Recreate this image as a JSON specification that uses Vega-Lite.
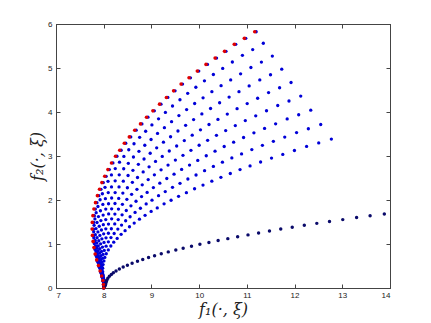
{
"$schema": "https://vega.github.io/schema/vega-lite/v6.json",
"width": 334, "height": 264,
"autosize": {"type": "none"},
"padding": {"left": 56, "top": 24, "right": 41, "bottom": 35},
"background": "white",
"config": {"view": {"stroke": "#444", "strokeWidth": 1}},
"datasets": {
"b": [
{"x":8,"y":0},{"x":8.024,"y":0.080},{"x":8.013,"y":0.171},{"x":7.988,"y":0.273},{"x":7.955,"y":0.387},{"x":7.919,"y":0.512},{"x":7.883,"y":0.638},{"x":7.850,"y":0.774},{"x":7.825,"y":0.918},{"x":7.808,"y":1.059},{"x":7.793,"y":1.195},{"x":7.787,"y":1.339},{"x":7.791,"y":1.491},{"x":7.804,"y":1.644},{"x":7.825,"y":1.794},{"x":7.858,"y":1.940},{"x":7.898,"y":2.099},{"x":7.942,"y":2.243},{"x":7.992,"y":2.395},{"x":8.051,"y":2.539},{"x":8.118,"y":2.691},{"x":8.193,"y":2.842},{"x":8.277,"y":2.994},{"x":8.365,"y":3.131},{"x":8.462,"y":3.290},{"x":8.567,"y":3.434},{"x":8.680,"y":3.586},{"x":8.801,"y":3.730},{"x":8.927,"y":3.882},{"x":9.061,"y":4.026},{"x":9.200,"y":4.178},{"x":9.344,"y":4.331},{"x":9.495,"y":4.481},{"x":9.652,"y":4.634},{"x":9.818,"y":4.777},{"x":9.992,"y":4.929},{"x":10.174,"y":5.082},{"x":10.365,"y":5.225},{"x":10.562,"y":5.378},{"x":10.767,"y":5.537},{"x":10.977,"y":5.674},{"x":11.195,"y":5.824},
{"x":7.995,"y":0.076},{"x":7.986,"y":0.163},{"x":7.963,"y":0.261},{"x":7.933,"y":0.370},{"x":7.900,"y":0.489},{"x":7.867,"y":0.609},{"x":7.838,"y":0.739},{"x":7.817,"y":0.876},{"x":7.803,"y":1.011},{"x":7.792,"y":1.142},{"x":7.790,"y":1.279},{"x":7.799,"y":1.424},{"x":7.816,"y":1.570},{"x":7.842,"y":1.713},{"x":7.879,"y":1.853},{"x":7.924,"y":2.005},{"x":7.972,"y":2.142},{"x":8.027,"y":2.288},{"x":8.090,"y":2.424},{"x":8.162,"y":2.570},{"x":8.242,"y":2.714},{"x":8.331,"y":2.859},{"x":8.423,"y":2.990},{"x":8.525,"y":3.142},{"x":8.635,"y":3.279},{"x":8.753,"y":3.425},{"x":8.879,"y":3.562},{"x":9.010,"y":3.707},{"x":9.149,"y":3.844},{"x":9.293,"y":3.990},{"x":9.442,"y":4.136},{"x":9.598,"y":4.279},{"x":9.760,"y":4.425},{"x":9.931,"y":4.562},{"x":10.111,"y":4.708},{"x":10.298,"y":4.853},{"x":10.494,"y":4.990},{"x":10.696,"y":5.136},{"x":10.907,"y":5.288},{"x":11.122,"y":5.419},{"x":11.345,"y":5.562},
{"x":7.997,"y":0.072},{"x":7.989,"y":0.155},{"x":7.969,"y":0.247},{"x":7.941,"y":0.350},{"x":7.912,"y":0.464},{"x":7.882,"y":0.577},{"x":7.856,"y":0.701},{"x":7.839,"y":0.830},{"x":7.830,"y":0.958},{"x":7.823,"y":1.082},{"x":7.825,"y":1.212},{"x":7.838,"y":1.350},{"x":7.860,"y":1.488},{"x":7.890,"y":1.624},{"x":7.932,"y":1.756},{"x":7.982,"y":1.900},{"x":8.035,"y":2.030},{"x":8.095,"y":2.168},{"x":8.163,"y":2.298},{"x":8.240,"y":2.436},{"x":8.325,"y":2.572},{"x":8.419,"y":2.710},{"x":8.516,"y":2.833},{"x":8.623,"y":2.978},{"x":8.738,"y":3.107},{"x":8.861,"y":3.245},{"x":8.992,"y":3.375},{"x":9.128,"y":3.513},{"x":9.272,"y":3.643},{"x":9.422,"y":3.781},{"x":9.576,"y":3.919},{"x":9.738,"y":4.055},{"x":9.906,"y":4.193},{"x":10.082,"y":4.323},{"x":10.267,"y":4.461},{"x":10.460,"y":4.599},{"x":10.661,"y":4.729},{"x":10.869,"y":4.867},{"x":11.085,"y":5.011},{"x":11.305,"y":5.135},{"x":11.534,"y":5.271},
{"x":7.998,"y":0.068},{"x":7.993,"y":0.146},{"x":7.975,"y":0.233},{"x":7.950,"y":0.331},{"x":7.924,"y":0.437},{"x":7.898,"y":0.544},{"x":7.876,"y":0.661},{"x":7.863,"y":0.784},{"x":7.858,"y":0.904},{"x":7.855,"y":1.021},{"x":7.861,"y":1.143},{"x":7.879,"y":1.274},{"x":7.906,"y":1.404},{"x":7.941,"y":1.532},{"x":7.988,"y":1.657},{"x":8.043,"y":1.793},{"x":8.101,"y":1.915},{"x":8.166,"y":2.046},{"x":8.239,"y":2.168},{"x":8.321,"y":2.298},{"x":8.411,"y":2.427},{"x":8.510,"y":2.557},{"x":8.612,"y":2.674},{"x":8.726,"y":2.810},{"x":8.845,"y":2.932},{"x":8.974,"y":3.063},{"x":9.110,"y":3.185},{"x":9.252,"y":3.315},{"x":9.401,"y":3.438},{"x":9.556,"y":3.568},{"x":9.717,"y":3.698},{"x":9.884,"y":3.827},{"x":10.057,"y":3.957},{"x":10.239,"y":4.079},{"x":10.429,"y":4.210},{"x":10.628,"y":4.340},{"x":10.835,"y":4.463},{"x":11.048,"y":4.593},{"x":11.271,"y":4.729},{"x":11.496,"y":4.846},{"x":11.731,"y":4.974},
{"x":8.000,"y":0.064},{"x":7.996,"y":0.137},{"x":7.981,"y":0.219},{"x":7.959,"y":0.310},{"x":7.936,"y":0.411},{"x":7.913,"y":0.511},{"x":7.895,"y":0.621},{"x":7.886,"y":0.736},{"x":7.885,"y":0.849},{"x":7.886,"y":0.959},{"x":7.897,"y":1.074},{"x":7.920,"y":1.196},{"x":7.952,"y":1.318},{"x":7.992,"y":1.439},{"x":8.043,"y":1.556},{"x":8.103,"y":1.684},{"x":8.166,"y":1.799},{"x":8.236,"y":1.921},{"x":8.314,"y":2.036},{"x":8.401,"y":2.158},{"x":8.496,"y":2.279},{"x":8.601,"y":2.401},{"x":8.708,"y":2.511},{"x":8.827,"y":2.639},{"x":8.951,"y":2.754},{"x":9.086,"y":2.876},{"x":9.227,"y":2.991},{"x":9.374,"y":3.113},{"x":9.529,"y":3.228},{"x":9.689,"y":3.351},{"x":9.855,"y":3.473},{"x":10.028,"y":3.594},{"x":10.207,"y":3.716},{"x":10.394,"y":3.831},{"x":10.590,"y":3.953},{"x":10.795,"y":4.076},{"x":11.007,"y":4.191},{"x":11.226,"y":4.313},{"x":11.455,"y":4.441},{"x":11.686,"y":4.551},{"x":11.926,"y":4.671},
{"x":8.001,"y":0.060},{"x":8.000,"y":0.128},{"x":7.987,"y":0.205},{"x":7.968,"y":0.290},{"x":7.948,"y":0.384},{"x":7.929,"y":0.477},{"x":7.915,"y":0.580},{"x":7.910,"y":0.687},{"x":7.914,"y":0.793},{"x":7.919,"y":0.895},{"x":7.935,"y":1.003},{"x":7.962,"y":1.117},{"x":7.999,"y":1.231},{"x":8.044,"y":1.344},{"x":8.100,"y":1.453},{"x":8.166,"y":1.572},{"x":8.234,"y":1.680},{"x":8.309,"y":1.794},{"x":8.392,"y":1.902},{"x":8.485,"y":2.016},{"x":8.585,"y":2.128},{"x":8.696,"y":2.243},{"x":8.807,"y":2.345},{"x":8.932,"y":2.464},{"x":9.062,"y":2.572},{"x":9.202,"y":2.686},{"x":9.348,"y":2.793},{"x":9.502,"y":2.908},{"x":9.661,"y":3.015},{"x":9.828,"y":3.129},{"x":10.000,"y":3.244},{"x":10.178,"y":3.356},{"x":10.363,"y":3.470},{"x":10.556,"y":3.578},{"x":10.758,"y":3.692},{"x":10.968,"y":3.806},{"x":11.186,"y":3.914},{"x":11.412,"y":4.028},{"x":11.647,"y":4.147},{"x":11.883,"y":4.250},{"x":12.129,"y":4.362},
{"x":8.002,"y":0.055},{"x":8.003,"y":0.119},{"x":7.993,"y":0.190},{"x":7.977,"y":0.269},{"x":7.961,"y":0.356},{"x":7.945,"y":0.442},{"x":7.935,"y":0.537},{"x":7.935,"y":0.637},{"x":7.943,"y":0.735},{"x":7.953,"y":0.830},{"x":7.974,"y":0.929},{"x":8.006,"y":1.035},{"x":8.048,"y":1.141},{"x":8.098,"y":1.245},{"x":8.160,"y":1.346},{"x":8.231,"y":1.457},{"x":8.304,"y":1.556},{"x":8.385,"y":1.662},{"x":8.473,"y":1.762},{"x":8.571,"y":1.868},{"x":8.677,"y":1.972},{"x":8.793,"y":2.078},{"x":8.910,"y":2.173},{"x":9.041,"y":2.283},{"x":9.176,"y":2.383},{"x":9.322,"y":2.489},{"x":9.474,"y":2.588},{"x":9.633,"y":2.694},{"x":9.799,"y":2.794},{"x":9.971,"y":2.900},{"x":10.149,"y":3.005},{"x":10.333,"y":3.110},{"x":10.525,"y":3.216},{"x":10.723,"y":3.315},{"x":10.931,"y":3.421},{"x":11.148,"y":3.527},{"x":11.371,"y":3.626},{"x":11.603,"y":3.732},{"x":11.845,"y":3.843},{"x":12.086,"y":3.938},{"x":12.339,"y":4.042},
{"x":8.004,"y":0.051},{"x":8.007,"y":0.109},{"x":7.999,"y":0.174},{"x":7.986,"y":0.247},{"x":7.974,"y":0.327},{"x":7.962,"y":0.407},{"x":7.956,"y":0.494},{"x":7.960,"y":0.585},{"x":7.973,"y":0.675},{"x":7.987,"y":0.763},{"x":8.012,"y":0.854},{"x":8.050,"y":0.951},{"x":8.097,"y":1.049},{"x":8.152,"y":1.145},{"x":8.219,"y":1.238},{"x":8.296,"y":1.339},{"x":8.374,"y":1.431},{"x":8.460,"y":1.528},{"x":8.553,"y":1.620},{"x":8.657,"y":1.717},{"x":8.769,"y":1.813},{"x":8.890,"y":1.910},{"x":9.012,"y":1.997},{"x":9.149,"y":2.099},{"x":9.290,"y":2.191},{"x":9.442,"y":2.288},{"x":9.599,"y":2.379},{"x":9.764,"y":2.477},{"x":9.935,"y":2.568},{"x":10.114,"y":2.666},{"x":10.298,"y":2.763},{"x":10.488,"y":2.859},{"x":10.685,"y":2.956},{"x":10.889,"y":3.048},{"x":11.104,"y":3.145},{"x":11.326,"y":3.242},{"x":11.556,"y":3.334},{"x":11.794,"y":3.431},{"x":12.042,"y":3.533},{"x":12.289,"y":3.620},{"x":12.548,"y":3.716},
{"x":8.006,"y":0.046},{"x":8.011,"y":0.099},{"x":8.006,"y":0.159},{"x":7.996,"y":0.225},{"x":7.987,"y":0.298},{"x":7.979,"y":0.370},{"x":7.978,"y":0.450},{"x":7.987,"y":0.533},{"x":8.004,"y":0.615},{"x":8.023,"y":0.695},{"x":8.053,"y":0.778},{"x":8.096,"y":0.866},{"x":8.149,"y":0.955},{"x":8.210,"y":1.042},{"x":8.282,"y":1.127},{"x":8.365,"y":1.220},{"x":8.448,"y":1.303},{"x":8.540,"y":1.392},{"x":8.639,"y":1.475},{"x":8.749,"y":1.564},{"x":8.867,"y":1.651},{"x":8.994,"y":1.740},{"x":9.122,"y":1.819},{"x":9.265,"y":1.912},{"x":9.412,"y":1.995},{"x":9.569,"y":2.084},{"x":9.733,"y":2.167},{"x":9.904,"y":2.256},{"x":10.081,"y":2.339},{"x":10.266,"y":2.427},{"x":10.456,"y":2.516},{"x":10.653,"y":2.603},{"x":10.857,"y":2.692},{"x":11.067,"y":2.775},{"x":11.288,"y":2.864},{"x":11.517,"y":2.953},{"x":11.753,"y":3.036},{"x":11.997,"y":3.125},{"x":12.252,"y":3.217},{"x":12.506,"y":3.297},{"x":12.771,"y":3.384}
],
"l": [
{"x":8,"y":0},{"x":8.014,"y":0.023},{"x":8.030,"y":0.049},{"x":8.039,"y":0.079},{"x":8.045,"y":0.112},{"x":8.055,"y":0.148},{"x":8.067,"y":0.184},{"x":8.087,"y":0.224},{"x":8.119,"y":0.265},{"x":8.160,"y":0.306},{"x":8.202,"y":0.345},{"x":8.258,"y":0.387},{"x":8.328,"y":0.431},{"x":8.408,"y":0.475},{"x":8.496,"y":0.519},{"x":8.595,"y":0.561},{"x":8.708,"y":0.607},{"x":8.818,"y":0.648},{"x":8.940,"y":0.692},{"x":9.066,"y":0.734},{"x":9.206,"y":0.778},{"x":9.353,"y":0.821},{"x":9.511,"y":0.865},{"x":9.665,"y":0.905},{"x":9.840,"y":0.951},{"x":10.016,"y":0.992},{"x":10.205,"y":1.036},{"x":10.398,"y":1.078},{"x":10.601,"y":1.122},{"x":10.807,"y":1.163},{"x":11.024,"y":1.207},{"x":11.246,"y":1.252},{"x":11.474,"y":1.295},{"x":11.710,"y":1.339},{"x":11.951,"y":1.381},{"x":12.204,"y":1.425},{"x":12.466,"y":1.469},{"x":12.732,"y":1.510},{"x":13.010,"y":1.554},{"x":13.300,"y":1.600},{"x":13.583,"y":1.640},{"x":13.881,"y":1.683}
],
"r": [
{"x":8,"y":0},{"x":7.994,"y":0.080},{"x":7.983,"y":0.171},{"x":7.958,"y":0.273},{"x":7.925,"y":0.387},{"x":7.889,"y":0.512},{"x":7.853,"y":0.638},{"x":7.820,"y":0.774},{"x":7.795,"y":0.918},{"x":7.778,"y":1.059},{"x":7.763,"y":1.195},{"x":7.757,"y":1.339},{"x":7.761,"y":1.491},{"x":7.774,"y":1.644},{"x":7.795,"y":1.794},{"x":7.828,"y":1.940},{"x":7.868,"y":2.099},{"x":7.912,"y":2.243},{"x":7.962,"y":2.395},{"x":8.021,"y":2.539},{"x":8.088,"y":2.691},{"x":8.163,"y":2.842},{"x":8.247,"y":2.994},{"x":8.335,"y":3.131},{"x":8.432,"y":3.290},{"x":8.537,"y":3.434},{"x":8.650,"y":3.586},{"x":8.771,"y":3.730},{"x":8.897,"y":3.882},{"x":9.031,"y":4.026},{"x":9.170,"y":4.178},{"x":9.314,"y":4.331},{"x":9.465,"y":4.481},{"x":9.622,"y":4.634},{"x":9.788,"y":4.777},{"x":9.962,"y":4.929},{"x":10.144,"y":5.082},{"x":10.335,"y":5.225},{"x":10.532,"y":5.378},{"x":10.737,"y":5.537},{"x":10.947,"y":5.674},{"x":11.165,"y":5.824}
]
},
"layer": [
{"data": {"name": "b"},
 "mark": {"type": "point", "filled": true, "size": 11, "color": "#0000d8", "opacity": 1},
 "encoding": {
  "x": {"field": "x", "type": "quantitative", "scale": {"domain": [7, 14], "nice": false, "zero": false},
   "axis": {"orient": "bottom", "values": [7,8,9,10,11,12,13,14], "format": "d", "grid": false, "tickSize": -4, "tickColor": "#444", "domainColor": "#444", "labelFont": "Liberation Sans", "labelFontSize": 8, "labelColor": "#222", "labelPadding": 7,
    "title": "f₁(·, ξ)", "titleFont": "DejaVu Serif", "titleFontStyle": "italic", "titleFontWeight": "normal", "titleFontSize": 16, "titleColor": "#222", "titlePadding": 2}},
  "y": {"field": "y", "type": "quantitative", "scale": {"domain": [0, 6], "nice": false, "zero": false},
   "axis": {"orient": "left", "values": [0,1,2,3,4,5,6], "format": "d", "grid": false, "tickSize": -4, "tickColor": "#444", "domainColor": "#444", "labelFont": "Liberation Sans", "labelFontSize": 8, "labelColor": "#222", "labelPadding": 8,
    "title": "f₂(·, ξ)", "titleFont": "DejaVu Serif", "titleFontStyle": "italic", "titleFontWeight": "normal", "titleFontSize": 16, "titleColor": "#222", "titlePadding": 2}}
 }},
{"data": {"name": "l"},
 "mark": {"type": "point", "filled": true, "size": 12, "color": "#0a0a6a", "opacity": 1},
 "encoding": {
  "x": {"field": "x", "type": "quantitative", "axis": null},
  "y": {"field": "y", "type": "quantitative", "axis": null}
 }},
{"data": {"name": "r"},
 "mark": {"type": "point", "filled": true, "size": 13, "color": "#e00000", "opacity": 1},
 "encoding": {
  "x": {"field": "x", "type": "quantitative", "axis": null},
  "y": {"field": "y", "type": "quantitative", "axis": null}
 }},
{"data": {"name": "r"},
 "mark": {"type": "point", "opacity": 0},
 "encoding": {
  "x": {"field": "x", "type": "quantitative", "axis": {"orient": "top", "values": [7,8,9,10,11,12,13,14], "labels": false, "title": null, "grid": false, "tickSize": -4, "tickColor": "#444", "domainColor": "#444"}},
  "y": {"field": "y", "type": "quantitative", "axis": {"orient": "right", "values": [0,1,2,3,4,5,6], "labels": false, "title": null, "grid": false, "tickSize": -4, "tickColor": "#444", "domainColor": "#444"}}
 }}
],
"resolve": {"axis": {"x": "independent", "y": "independent"}}
}
